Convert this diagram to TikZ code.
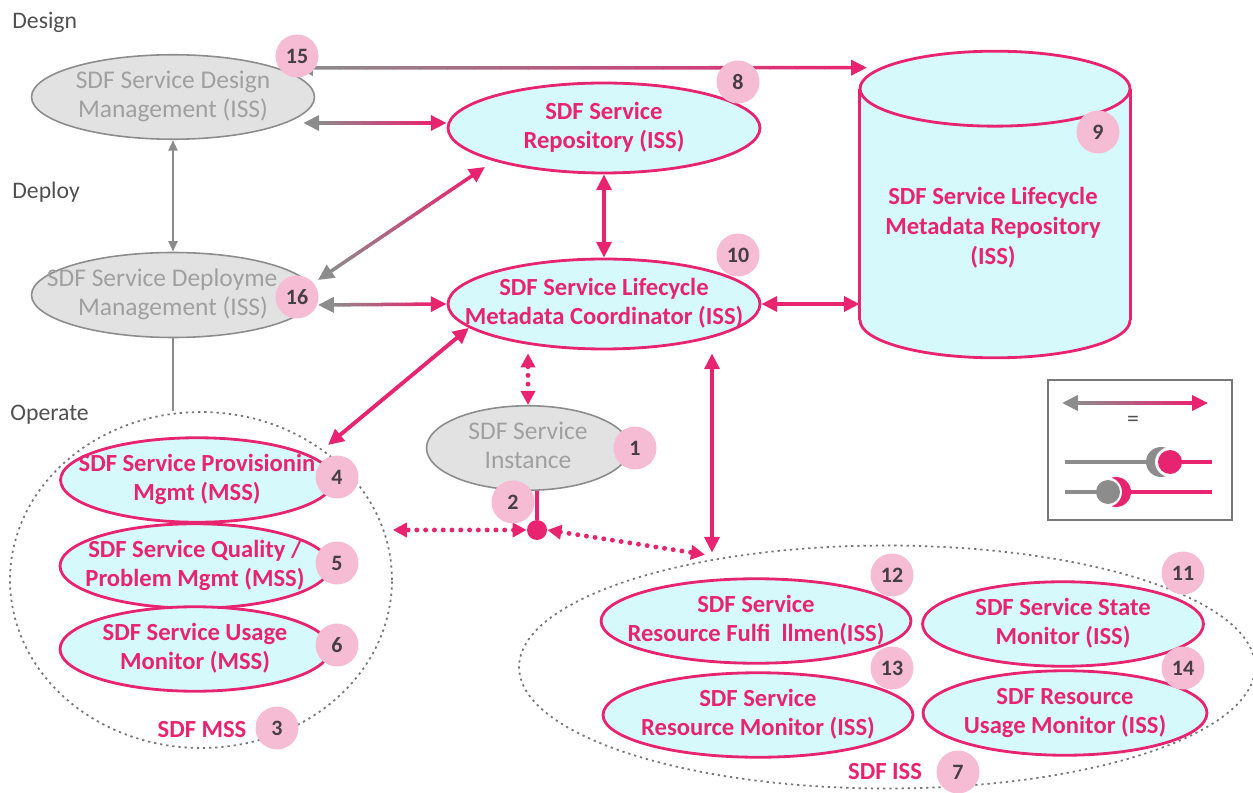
\documentclass[tikz,border=0pt]{standalone}
\usepackage{fontspec}
\setmainfont{Carlito}
\usetikzlibrary{shapes.geometric,arrows.meta,calc}

\definecolor{sdfpink}{RGB}{232,36,112}
\definecolor{sdfcyan}{RGB}{214,249,252}
\definecolor{sdfbadge}{RGB}{246,188,212}
\definecolor{sdfnum}{RGB}{70,62,66}
\definecolor{sdfgreyfill}{RGB}{226,226,226}
\definecolor{sdfgreyline}{RGB}{140,140,140}
\definecolor{sdfgreytext}{RGB}{160,160,160}
\definecolor{sdfdots}{RGB}{120,120,120}
\definecolor{sdfphase}{RGB}{80,80,80}

\newcommand\pinkfont{\fontsize{14}{17}\selectfont\bfseries}
\newcommand\greyfont{\fontsize{14.5}{17}\selectfont}
\newcommand\numfont{\fontsize{12.5}{14}\selectfont\bfseries}
\newcommand\phasefont{\fontsize{13.5}{16}\selectfont}
% text that may run over the ellipse border
\newcommand\etext[1]{\makebox[0pt]{\begin{tabular}{@{}c@{}}#1\end{tabular}}}

\tikzset{
    pinkbox/.style={ellipse, draw=sdfpink, line width=1.6pt, fill=sdfcyan,
        inner sep=0pt, text=sdfpink, font=\pinkfont},
    greybox/.style={ellipse, draw=sdfgreyline, line width=0.9pt, fill=sdfgreyfill,
        inner sep=0pt, text=sdfgreytext, font=\greyfont},
    badge/.style={circle, fill=sdfbadge, minimum size=0.86cm, inner sep=0pt,
        text=sdfnum, font=\numfont},
    groupring/.style={ellipse, draw=sdfdots, line width=1pt,
        dash pattern=on 1.3pt off 2.2pt, inner sep=0pt},
    pinktip/.style={-{Triangle[length=9pt,width=8.5pt]}},
    pinkarrow/.style={draw=sdfpink, line width=2.2pt,
        {Triangle[length=9pt,width=8.5pt]}-{Triangle[length=9pt,width=8.5pt]}},
    dotarrow/.style={draw=sdfpink, line width=2.8pt, line cap=round,
        dash pattern=on 0pt off 5pt,
        {Triangle[length=8pt,width=8pt]}-{Triangle[length=8pt,width=8pt]}},
    greyarrow/.style={draw=sdfgreyline, line width=1.4pt,
        {Triangle[length=6pt,width=5pt]}-{Triangle[length=6pt,width=5pt]}},
    phase/.style={anchor=west, text=sdfphase, font=\phasefont, inner sep=0pt},
}

% grey-to-pink double arrow from #1 (grey end) to #2 (pink end)
\newcommand\gradarrow[2]{%
    \coordinate (ga) at ($(#1)!9pt!(#2)$);
    \coordinate (gb) at ($(#2)!9pt!(#1)$);
    \foreach \k in {1,...,20}{%
        \pgfmathsetmacro\gmix{5*\k-2.5}%
        \draw[line width=2pt, line cap=round, sdfpink!\gmix!sdfgreyline]
            ($(ga)!{(\k-1)/20}!(gb)$) -- ($(ga)!{\k/20}!(gb)$);
    }
    \draw[line width=2pt, sdfgreyline, pinktip] (ga) -- (#1);
    \draw[line width=2pt, sdfpink, pinktip] (gb) -- (#2);
}

\begin{document}
\begin{tikzpicture}[x=0.02cm, y=-0.02cm]
    \useasboundingbox (0,0) rectangle (1253,793);

    % phases
    \node[phase] (design-lbl) at (12,22) {Design};
    \node[phase] (deploy-lbl) at (12,192) {Deploy};
    \node[phase] (operate-lbl) at (10,415) {Operate};

    % groups
    \node[groupring, minimum width=7.64cm, minimum height=6.72cm] (mss) at (201,580) {};
    \node[groupring, minimum width=14.72cm, minimum height=4.86cm] (iss) at (887,667) {};

    % cylinder
    \node[minimum width=5.4cm, minimum height=4.62cm, inner sep=0pt] (mrepo) at (995,204.5) {};
    \fill[sdfcyan] (mrepo.north west) rectangle (mrepo.south east);
    \fill[sdfcyan] (mrepo.south) ellipse [x radius=2.7cm, y radius=0.75cm];
    \begin{scope}
        \clip ([shift={(-6,0)}]mrepo.south west) rectangle ++(282,60);
        \draw[sdfpink, line width=1.6pt] (mrepo.south) ellipse [x radius=2.7cm, y radius=0.75cm];
    \end{scope}
    \draw[sdfpink, line width=1.6pt] (mrepo.north west) -- (mrepo.south west);
    \draw[sdfpink, line width=1.6pt] (mrepo.north east) -- (mrepo.south east);
    \filldraw[fill=sdfcyan, draw=sdfpink, line width=1.6pt]
        (mrepo.north) ellipse [x radius=2.7cm, y radius=0.75cm];
    \node[text=sdfpink, font=\pinkfont, align=center] (mrepo-txt) at (993,228)
        {SDF Service Lifecycle\\Metadata Repository\\(ISS)};

    % services
    \node[greybox, minimum width=5.66cm, minimum height=1.66cm] (design) at (173,97)
        {\etext{SDF Service Design\\Management (ISS)}};
    \node[greybox, minimum width=5.66cm, minimum height=1.7cm] (deploy) at (173,295)
        {\etext{SDF Service Deployme\hphantom{nt}\\Management (ISS)}};
    \node[pinkbox, minimum width=6.24cm, minimum height=1.8cm] (repo) at (604,128)
        {\etext{SDF Service\\Repository (ISS)}};
    \node[pinkbox, minimum width=6.24cm, minimum height=1.8cm] (coord) at (604,304)
        {\etext{SDF Service Lifecycle\\Metadata Coordinator (ISS)}};
    \node[greybox, minimum width=4.06cm, minimum height=1.46cm] (inst) at (528,448)
        {\etext{SDF Service\\Instance}};

    \node[pinkbox, minimum width=5.46cm, minimum height=1.48cm] (prov) at (197,480)
        {\etext{SDF Service Provisionin\\Mgmt (MSS)}};
    \node[pinkbox, minimum width=5.4cm, minimum height=1.46cm] (qual) at (195,566)
        {\etext{SDF Service Quality /\\Problem Mgmt (MSS)}};
    \node[pinkbox, minimum width=5.4cm, minimum height=1.46cm] (usage) at (195,649)
        {\etext{SDF Service Usage\\Monitor (MSS)}};
    \node[text=sdfpink, font=\pinkfont] (mss-lbl) at (202,730) {SDF MSS};

    \node[pinkbox, minimum width=6.2cm, minimum height=1.64cm] (fulfil) at (756,621)
        {\etext{SDF Service\\Resource Fulfi\ \ llmen(ISS)}};
    \node[pinkbox, minimum width=5.62cm, minimum height=1.56cm] (state) at (1063,624)
        {\etext{SDF Service State\\Monitor (ISS)}};
    \node[pinkbox, minimum width=6.2cm, minimum height=1.68cm] (resmon) at (758,715)
        {\etext{SDF Service\\Resource Monitor (ISS)}};
    \node[pinkbox, minimum width=5.68cm, minimum height=1.54cm] (usemon) at (1065,713)
        {\etext{SDF Resource\\Usage Monitor (ISS)}};
    \node[text=sdfpink, font=\pinkfont] (iss-lbl) at (885,772) {SDF ISS};

    \node[circle, fill=sdfpink, minimum size=0.4cm, inner sep=0pt] (junction) at (537,530) {};

    % grey links
    \draw[greyarrow] (design.south) -- (deploy.north);
    \draw[draw=sdfgreyline, line width=1.4pt] (deploy.south) -- (deploy.south |- mss.north);

    % pink links
    \draw[pinkarrow] (repo.south) -- (coord.north);
    \draw[pinkarrow] (coord.east) -- (coord.east -| mrepo.west);
    \coordinate (p4) at (328,445);
    \draw[pinkarrow] (coord.190) -- (p4);
    \coordinate (cB) at ([shift={(108,3)}]coord.south);
    \coordinate (cC) at ([shift={(-175,8)}]iss.north);
    \draw[pinkarrow] (cB) -- (cC);
    \draw[draw=sdfpink, line width=2pt] (inst.south -| junction) -- (junction);
    \draw[dotarrow] ($(inst.north |- coord.south)+(0,3)$) -- (inst.north);
    \draw[dotarrow] (junction.west) -- (junction.west -| mss.east);
    \coordinate (issTL) at ([shift={(-182,10)}]iss.north);
    \draw[dotarrow] (junction.east) -- (issTL);

    % grey/pink links
    \coordinate (topL) at (297,68);
    \coordinate (cylTL) at ([shift={(-128,-21)}]mrepo.north);
    \gradarrow{topL}{cylTL}
    \coordinate (dsgR) at ([shift={(-12,26)}]design.east);
    \coordinate (repoW) at ([shift={(0,-5)}]repo.west);
    \gradarrow{dsgR}{repoW}
    \coordinate (dep16) at (318,280);
    \coordinate (repoSW) at ([shift={(-119,39)}]repo.center);
    \gradarrow{dep16}{repoSW}
    \coordinate (d16) at (318,305);
    \gradarrow{d16}{coord.west}

    % badges
    \foreach \n/\x/\y in {15/297/56, 8/738/82, 9/1098/132, 10/738/255, 16/297/297,
                          1/635/448, 2/513/502, 4/337/477, 5/337/563, 6/337/645,
                          3/277/728, 12/892/575, 11/1183/573, 13/892/668,
                          14/1183/668, 7/958/772}
        \node[badge] (b\n) at (\x,\y) {\n};

    % legend
    \draw[draw=sdfdots, line width=1.2pt] (1048,380) rectangle (1232,520);
    \coordinate (lgA) at (1062,403);
    \coordinate (lgB) at (1208,403);
    \gradarrow{lgA}{lgB}
    \node[text=sdfphase, font=\phasefont] (lg-eq) at (1133,421) {=};
    \draw[sdfgreyline, line width=2.4pt] (1065,462) -- (1150,462);
    \begin{scope}
        \clip (1140,440) rectangle (1165.5,485);
        \fill[sdfgreyline, even odd rule] (1161,462) circle (0.3cm) (1170,462) circle (0.3cm);
    \end{scope}
    \draw[sdfpink, line width=2.4pt] (1170,462) -- (1212,462);
    \fill[sdfpink] (1170,462) circle (0.24cm);
    \draw[sdfgreyline, line width=2.4pt] (1065,492) -- (1108,492);
    \fill[sdfgreyline] (1108,492) circle (0.24cm);
    \begin{scope}
        \clip (1111.5,470) rectangle (1140,515);
        \fill[sdfpink, even odd rule] (1116,492) circle (0.3cm) (1107,492) circle (0.3cm);
    \end{scope}
    \draw[sdfpink, line width=2.4pt] (1126,492) -- (1212,492);
\end{tikzpicture}
\end{document}
